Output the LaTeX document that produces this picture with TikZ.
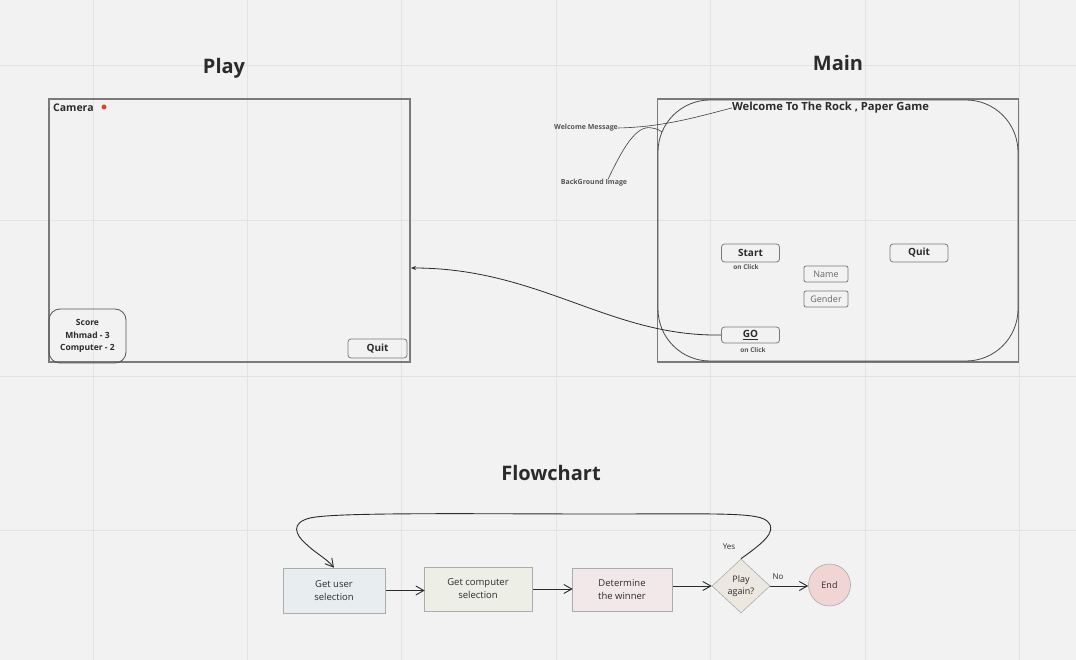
\documentclass[tikz,border=0pt]{standalone}
\usepackage{fontspec}
\setmainfont{Open Sans}
\usetikzlibrary{arrows.meta,shapes.geometric}
\definecolor{bgc}{HTML}{F2F2F2}
\definecolor{gridc}{HTML}{E3E3E3}
\definecolor{framec}{HTML}{7A7A7A}
\definecolor{txt}{HTML}{2B2B2B}
\definecolor{camred}{HTML}{E2452E}
\definecolor{ubfill}{HTML}{E8EEF0}
\definecolor{cbfill}{HTML}{EDEFE6}
\definecolor{wbfill}{HTML}{F2E8EA}
\definecolor{pafill}{HTML}{ECE8DF}
\definecolor{endfill}{HTML}{F1D4D4}
\definecolor{sketchc}{HTML}{A8ADB0}
\tikzset{
  title/.style={font=\fontsize{20}{24}\selectfont\bfseries, text=txt, inner sep=0},
  frame/.style={draw=framec, line width=1.3pt, minimum width=361pt, minimum height=263pt, inner sep=0},
  btn/.style={draw=framec, line width=0.8pt, rounded corners=3pt, minimum width=58pt, minimum height=18pt, inner sep=0, font=\fontsize{10}{12}\selectfont\bfseries, text=txt},
  field/.style={draw=framec, line width=0.8pt, rounded corners=2pt, minimum width=44pt, minimum height=16pt, inner sep=0, font=\fontsize{9}{11}\selectfont, text=black!60},
  tiny/.style={font=\fontsize{6.5}{8}\selectfont\bfseries, text=txt!80, inner sep=0},
  lbl/.style={font=\fontsize{7}{8}\selectfont\bfseries, text=txt!80, inner sep=0},
  thinline/.style={draw=txt!90, line width=0.6pt},
  fbox/.style={draw=sketchc, line width=0.6pt, minimum width=102pt, minimum height=45pt, inner sep=0, align=center, font=\fontsize{9.5}{13}\selectfont, text=txt},
  sk/.style={draw=txt, line width=0.9pt, -{Straight Barb[length=8pt,width=9pt]}},
  small/.style={font=\fontsize{8}{9}\selectfont, text=txt, inner sep=0}
}
\begin{document}
\begin{tikzpicture}[x=1pt,y=-1pt]
\fill[bgc] (0,0) rectangle (1076,660);
\useasboundingbox (0,0) rectangle (1076,660);
% grid
\foreach \gx in {93,247.4,401.8,556.2,710.6,865,1019.4}
  \draw[gridc, line width=1pt] (\gx,0) -- (\gx,660);
\foreach \gy in {66,221,376,530}
  \draw[gridc, line width=1pt] (0,\gy) -- (1076,\gy);

% titles
\node[title] (tplay) at (224,68) {Play};
\node[title] (tmain) at (838,63) {Main};
\node[title] (tflow) at (551,473) {Flowchart};

% Play screen
\node[frame] (play) at (229.5,230.5) {};
\node[anchor=west, font=\fontsize{10.5}{12}\selectfont\bfseries, text=txt, inner sep=0] (cam) at (53,108) {Camera};
\node[circle, fill=camred, minimum size=5pt, inner sep=0] (camdot) at (104,107) {};
\node[draw=txt!80, line width=0.8pt, rounded corners=11pt, minimum width=77pt, minimum height=54pt, inner sep=0, align=center, font=\fontsize{8.5}{12.5}\selectfont\bfseries, text=txt] (score) at (87.5,336) {Score\\Mhmad - 3\\Computer - 2};
\node[btn, minimum width=59pt, minimum height=19pt] (pquit) at (377.5,348.5) {Quit};
\coordinate (playin) at (411,268);

% Main screen
\node[frame] (main) at (838,230.5) {};
\node[draw=txt!85, line width=0.8pt, rounded corners=52pt, minimum width=360pt, minimum height=261pt, inner sep=0] (mainbg) at (838,230.5) {};
\node[font=\fontsize{11.2}{13}\selectfont\bfseries, text=txt, inner sep=0] (wt) at (830.5,108) {Welcome To The Rock , Paper Game};
\node[lbl] (wm) at (586,128) {Welcome Message};
\node[lbl] (bgi) at (594,183) {BackGround Image};
\coordinate (bgend) at (662,132);
\draw[thinline] (wm.east) .. controls (665,127) and (700,116) .. (wt.west);
\draw[thinline] ([xshift=14pt]bgi.north) .. controls (622,150) and (636,124) .. (652,128) .. controls (657,129) and (660,130) .. (bgend);

\node[btn] (start) at (750.5,253) {Start};
\node[tiny] (oc1) at (746,267) {on Click};
\node[btn] (mquit) at (919,253) {Quit};
\node[field] (name) at (826,274) {Name};
\node[field] (gender) at (826,299) {Gender};
\node[btn, minimum height=16pt] (go) at (750.5,335) {\underline{GO}};
\node[tiny] (oc2) at (753,350) {on Click};
\draw[draw=txt, line width=0.8pt, -{Stealth[length=5pt,width=4pt]}] (go.west) .. controls (610,337) and (540,268) .. (playin);

% Flowchart
\node[fbox, fill=ubfill] (ub) at (334,590.5) {Get user\\selection};
\node[fbox, fill=cbfill, minimum width=108pt, minimum height=44pt] (cb) at (478,589) {Get computer\\selection};
\node[fbox, fill=wbfill, minimum width=100pt, minimum height=43pt] (wb) at (622,589.5) {Determine\\the winner};
\node[diamond, draw=sketchc, line width=0.6pt, fill=pafill, minimum width=58pt, minimum height=54pt, inner sep=0, align=center, font=\fontsize{9}{11.5}\selectfont, text=txt] (pa) at (741,586) {Play\\again?};
\node[circle, draw=sketchc, line width=0.6pt, fill=endfill, minimum size=42pt, inner sep=0, font=\fontsize{9}{11}\selectfont, text=txt] (end) at (829.5,585) {End};

\draw[sk] ([xshift=1pt]ub.east) -- ([xshift=1pt]ub.east -| cb.west);
\draw[sk] ([xshift=1pt]cb.east) -- ([xshift=1pt]cb.east -| wb.west);
\draw[sk] ([xshift=1pt]wb.east |- pa.west) -- (pa.west);
\draw[sk] (pa.east) -- (pa.east -| end.west);
\node[small] (no) at (778,577) {No};
\node[small] (yes) at (729,547) {Yes};
\draw[sk] (pa.north) .. controls (760,545) and (778,532) .. (768,522) .. controls (760,512) and (720,514) .. (600,514) .. controls (480,514) and (335,512) .. (310,518) .. controls (290,523) and (296,535) .. (305,543) .. controls (315,553) and (326,558) .. (ub.north);
\end{tikzpicture}
\end{document}
